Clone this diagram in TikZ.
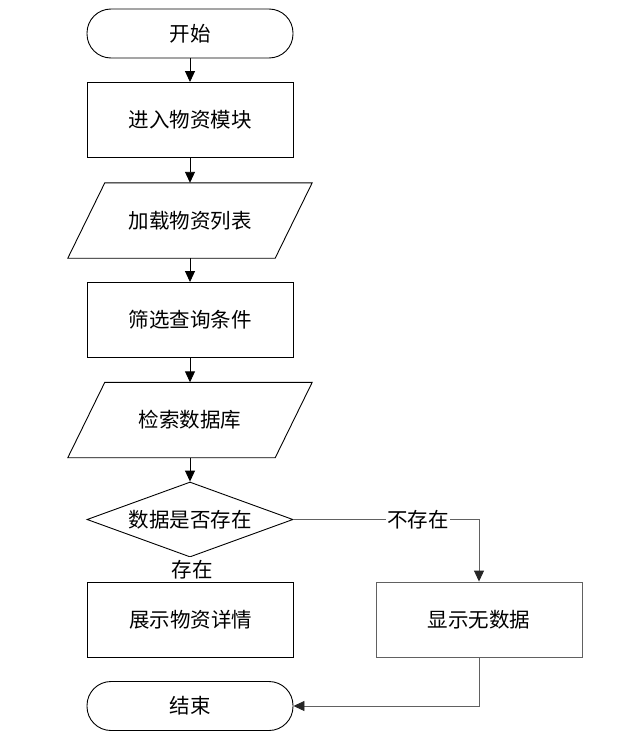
\documentclass[tikz,border=0pt]{standalone}
\usepackage{fontspec}
\newfontfamily\cjk{Noto Sans CJK SC}
\usetikzlibrary{arrows.meta,calc,shapes.geometric}
\begin{document}
\begin{tikzpicture}[x=1pt,y=-1pt,
  every node/.style={font=\cjk\fontsize{20.5}{24}\selectfont, inner sep=0pt},
  base/.style={line width=0.9pt},
  term/.style={base, draw, rounded corners=24pt, minimum width=206pt, minimum height=49pt},
  box/.style={base, draw, minimum width=206pt, minimum height=75pt},
  gbox/.style={box, draw=black!62},
  iobox/.style={minimum width=207pt, minimum height=75pt},
  dec/.style={base, draw, diamond, aspect=2.75, minimum width=206pt, minimum height=75pt},
  arr/.style={base, -{Triangle[width=10pt,length=11pt]}},
  garr/.style={base, draw=black!62, -{Triangle[width=10pt,length=11pt,color=black!85]}},
  lbl/.style={fill=white, inner xsep=1pt, inner ysep=1pt}]
\useasboundingbox (0,0) rectangle (617,744);
\node[term] (start) at (190,33.5) {开始};
\node[box] (enter) at (190,120) {进入物资模块};
\node[iobox] (load) at (190,220.5) {加载物资列表};
\draw[base] ($(load.north west)+(18.5,0)$) -- ($(load.north east)+(18.5,0)$) -- ($(load.south east)+(-18.5,0)$) -- ($(load.south west)+(-18.5,0)$) -- cycle;
\node[box] (filter) at (190,320) {筛选查询条件};
\node[iobox] (search) at (190,420) {检索数据库};
\draw[base] ($(search.north west)+(18.5,0)$) -- ($(search.north east)+(18.5,0)$) -- ($(search.south east)+(-18.5,0)$) -- ($(search.south west)+(-18.5,0)$) -- cycle;
\node[dec] (check) at (190,519.5) {数据是否存在};
\node[box] (show) at (190.5,619.5) {展示物资详情};
\node[gbox] (nodata) at (479,619.5) {显示无数据};
\node[term] (end) at (190,706) {结束};
\coordinate (c1) at (479,519.5);
\coordinate (c2) at (479,706);
\draw[arr] (start) -- (enter);
\draw[arr] (enter) -- (load.north);
\draw[arr] (load.south) -- (filter);
\draw[arr] (filter) -- (search.north);
\draw[arr] (search.south) -- (check.north);
\draw[arr] (check.south) -- (show.north);
\node[lbl, minimum height=25pt] at (192,569.5) {存在};
\draw[garr] (check.east) -- (c1) -- (nodata.north);
\node[lbl] at (418,519.5) {不存在};
\draw[garr] (nodata.south) -- (c2) -- (end.east);
\end{tikzpicture}
\end{document}
